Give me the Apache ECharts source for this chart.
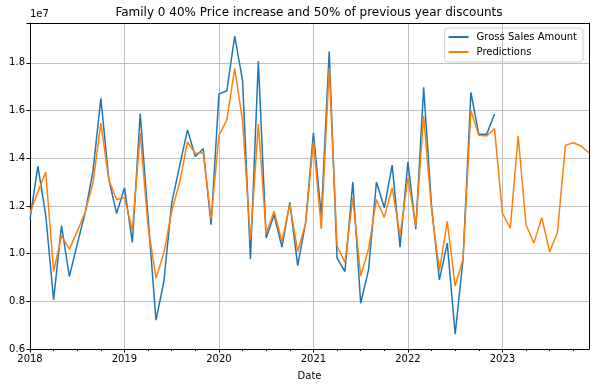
<!DOCTYPE html>
<html>
<head>
<meta charset="utf-8">
<script src="https://cdn.jsdelivr.net/npm/echarts@6/dist/echarts.min.js"></script>
<style>html,body{margin:0;padding:0;background:#fff}#c{width:595px;height:387px}</style>
</head>
<body>
<div id="c"></div>
<script>
// values in units of 1e7
const years = [2018, 2019, 2020, 2021, 2022, 2023];
const monthNames = ['01','02','03','04','05','06','07','08','09','10','11','12'];
const grossSales = [1.145, 1.367, 1.16, 0.806, 1.117, 0.904, 1.04, 1.17, 1.346, 1.651, 1.314, 1.168,
  1.276, 1.047, 1.587, 1.15, 0.721, 0.882, 1.213, 1.367, 1.519, 1.407, 1.44, 1.121,
  1.669, 1.683, 1.912, 1.725, 0.977, 1.806, 1.065, 1.163, 1.027, 1.215, 0.95, 1.128,
  1.507, 1.156, 1.847, 0.981, 0.925, 1.3, 0.792, 0.932, 1.3, 1.192, 1.371, 1.027,
  1.384, 1.103, 1.697, 1.199, 0.89, 1.044, 0.662, 0.976, 1.676, 1.5, 1.5, 1.585];
const predictions = [1.17, 1.258, 1.342, 0.925, 1.075, 1.019, 1.093, 1.173, 1.297, 1.547, 1.31, 1.227,
  1.234, 1.097, 1.505, 1.11, 0.897, 1.002, 1.178, 1.297, 1.468, 1.42, 1.423, 1.145,
  1.496, 1.561, 1.777, 1.556, 1.055, 1.543, 1.084, 1.178, 1.051, 1.206, 1.009, 1.126,
  1.472, 1.103, 1.777, 1.032, 0.962, 1.234, 0.906, 1.018, 1.227, 1.152, 1.276, 1.075,
  1.318, 1.114, 1.578, 1.185, 0.929, 1.135, 0.864, 0.976, 1.599, 1.496, 1.493, 1.524,
  1.17, 1.107, 1.493, 1.121, 1.044, 1.152, 1.007, 1.091, 1.454, 1.465, 1.451, 1.423];
const yTicks = [0.6, 0.8, 1.0, 1.2, 1.4, 1.6, 1.8];

const months = [];
years.forEach(y => monthNames.forEach(m => months.push(y + '-' + m)));

const FONT = 'DejaVu Sans';
const yMin = yTicks[0], yMax = 1.967;
const chart = echarts.init(document.getElementById('c'), null, {renderer: 'canvas'});
chart.setOption({
  animation: false,
  backgroundColor: '#fff',
  textStyle: {fontFamily: FONT},
  title: {
    text: 'Family 0 40% Price increase and 50% of previous year discounts',
    left: 304, top: 2, textAlign: 'center',
    textStyle: {fontFamily: FONT, fontSize: 12, fontWeight: 'normal', color: '#000'}
  },
  legend: {
    orient: 'vertical', right: 12, top: 28,
    icon: 'rect', itemWidth: 20, itemHeight: 2, itemGap: 5,
    padding: [4, 6, 5, 4],
    borderColor: '#d0d0d0', borderWidth: 1, borderRadius: 3,
    textStyle: {fontFamily: FONT, fontSize: 10, color: '#000', padding: [0, 0, 0, 3]},
    data: ['Gross Sales Amount', 'Predictions']
  },
  grid: {left: 30, right: 6, top: 23, bottom: 38, containLabel: false},
  xAxis: [
    {
      type: 'category', data: months, boundaryGap: false, position: 'bottom',
      axisLine: {lineStyle: {color: '#000', width: 1}},
      axisTick: {interval: (i) => i % 3 === 0 && i % 12 !== 0, length: 2, lineStyle: {color: '#000'}},
      axisLabel: {interval: (i) => i % 12 === 0, formatter: (v) => v.slice(0, 4), color: '#000', fontSize: 10, fontFamily: FONT, margin: 5},
      splitLine: {show: true, interval: (i) => i % 12 === 0, lineStyle: {color: '#b0b0b0', width: 0.8}},
      name: 'Date', nameLocation: 'middle', nameGap: 22,
      nameTextStyle: {color: '#000', fontSize: 10, fontFamily: FONT}
    },
    {
      type: 'category', data: months, boundaryGap: false, position: 'bottom',
      axisLine: {show: false},
      axisTick: {interval: (i) => i % 12 === 0, length: 3.5, lineStyle: {color: '#000'}},
      axisLabel: {show: false}, splitLine: {show: false}
    },
    {
      type: 'category', data: months, boundaryGap: false, position: 'top',
      axisLine: {lineStyle: {color: '#000', width: 1}},
      axisTick: {show: false}, axisLabel: {show: false}, splitLine: {show: false}
    }
  ],
  yAxis: [
    {
      type: 'value', min: yMin, max: yMax, interval: 0.2,
      axisLine: {show: true, lineStyle: {color: '#000', width: 1}},
      axisTick: {show: true, length: 3.5, lineStyle: {color: '#000'}},
      axisLabel: {
        color: '#000', fontSize: 10, fontFamily: FONT, margin: 5,
        formatter: (v) => (Math.abs(v * 5 - Math.round(v * 5)) > 1e-6 ? '' : v.toFixed(1))
      },
      splitLine: {show: true, lineStyle: {color: '#b0b0b0', width: 0.8}},
      name: '1e7', nameLocation: 'end', nameGap: 4,
      nameTextStyle: {color: '#000', fontSize: 10, fontFamily: FONT, align: 'left'}
    },
    {
      type: 'value', min: yMin, max: yMax, position: 'right',
      axisLine: {show: true, lineStyle: {color: '#000', width: 1}},
      axisTick: {show: false}, axisLabel: {show: false}, splitLine: {show: false}
    }
  ],
  series: [
    {
      name: 'Gross Sales Amount', type: 'line', data: grossSales, xAxisIndex: 0, yAxisIndex: 0,
      symbol: 'none', showSymbol: false, color: '#1f77b4',
      lineStyle: {color: '#1f77b4', width: 1.5}, z: 3
    },
    {
      name: 'Predictions', type: 'line', data: predictions, xAxisIndex: 0, yAxisIndex: 0,
      symbol: 'none', showSymbol: false, color: '#ff7f0e',
      lineStyle: {color: '#ff7f0e', width: 1.5}, z: 4
    }
  ]
});
</script>
</body>
</html>
